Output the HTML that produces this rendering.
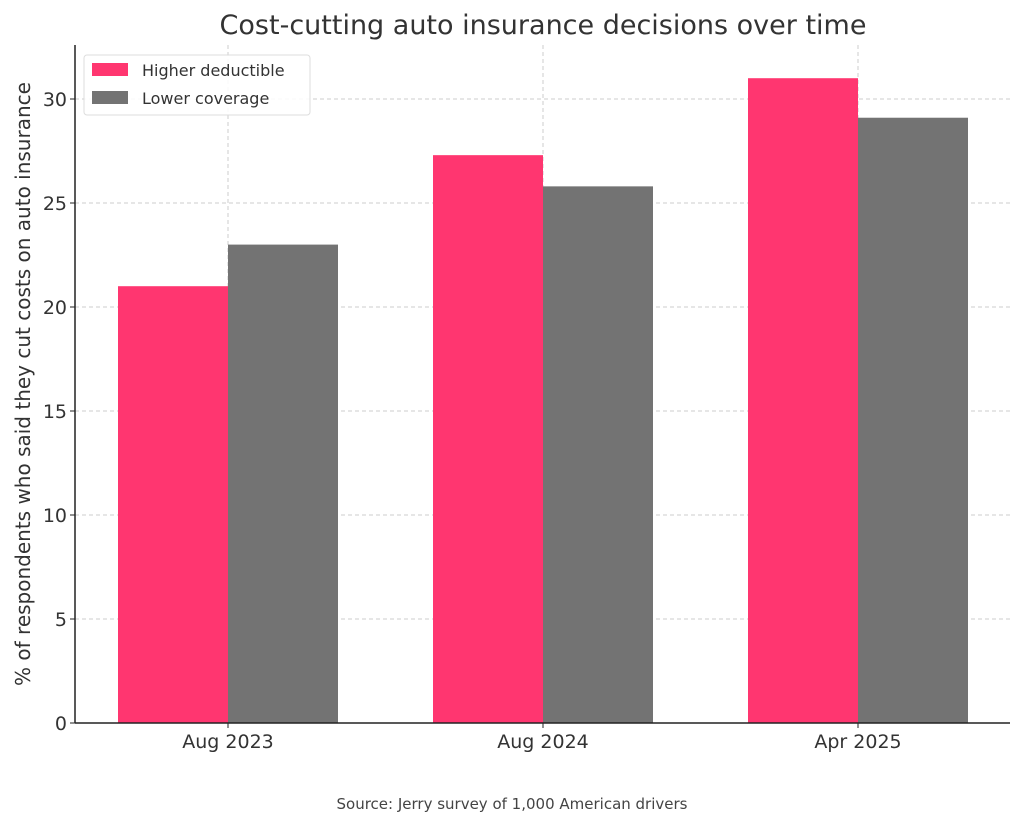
<!DOCTYPE html>
<html><head><meta charset="utf-8"><style>
body{margin:0;background:#fff;}
svg{display:block;font-family:"DejaVu Sans","Liberation Sans",sans-serif;}
</style></head><body>
<svg id="chart" width="1024" height="826" viewBox="0 0 1024 826">
<text x="543" y="34" text-anchor="middle" font-size="27" fill="#333">Cost-cutting auto insurance decisions over time</text>
<text transform="translate(30,384) rotate(-90)" text-anchor="middle" font-size="20" fill="#333">% of respondents who said they cut costs on auto insurance</text>
<text x="512" y="809" text-anchor="middle" font-size="15" fill="#444">Source: Jerry survey of 1,000 American drivers</text>
<g id="grid"></g><g id="bars"></g><g id="axes"></g>
<g>
<rect x="84" y="55" width="226" height="60" rx="3" fill="#fff" fill-opacity="0.85" stroke="#ddd"/>
<rect x="92" y="63" width="36" height="13" fill="#ff3670"/>
<text x="142" y="76" font-size="16" fill="#333">Higher deductible</text>
<rect x="92" y="91" width="36" height="13" fill="#737373"/>
<text x="142" y="104" font-size="16" fill="#333">Lower coverage</text>
</g>
</svg>
<script>
const categories=["Aug 2023","Aug 2024","Apr 2025"];
const higherDeductible=[21,27.3,31];
const lowerCoverage=[23,25.8,29.1];
const yTicks=[0,5,10,15,20,25,30];
const NS="http://www.w3.org/2000/svg";
const x0=75,x1=1010,yBase=723,pxPerUnit=20.8;
const groupStart=228,groupStep=315,barW=110;
const y=v=>yBase-v*pxPerUnit;
const xc=i=>groupStart+i*groupStep;
function mk(tag,attrs,parent){const e=document.createElementNS(NS,tag);for(const k in attrs)e.setAttribute(k,attrs[k]);parent.appendChild(e);return e;}
const grid=document.getElementById('grid'),bars=document.getElementById('bars'),axes=document.getElementById('axes');
yTicks.forEach(t=>{
 if(t>0){const l=mk('line',{x1:x0,x2:x1,y1:y(t),y2:y(t),stroke:'#ccc','stroke-dasharray':'4,3','stroke-width':1},grid);
 
 }
 const tk=mk('line',{x1:x0-5,x2:x0,y1:y(t),y2:y(t),stroke:'#222'},axes);
 
 
 const tx=mk('text',{x:x0-8,y:y(t)+7,'text-anchor':'end','font-size':19,fill:'#333'},axes);
 tx.textContent=t;
 
 
});
categories.forEach((c,i)=>{
 const gl=mk('line',{x1:xc(i),x2:xc(i),y1:45,y2:yBase,stroke:'#ccc','stroke-dasharray':'4,3'},grid);
 
 
 const b1=mk('rect',{x:xc(i)-barW,y:y(higherDeductible[i]),width:barW,height:higherDeductible[i]*pxPerUnit,fill:'#ff3670'},bars);
 
 
 const b2=mk('rect',{x:xc(i),y:y(lowerCoverage[i]),width:barW,height:lowerCoverage[i]*pxPerUnit,fill:'#737373'},bars);
 
 
 const tk=mk('line',{x1:xc(i),x2:xc(i),y1:yBase,y2:yBase+5,stroke:'#222'},axes);
 
 
 const tx=mk('text',{x:xc(i),y:yBase+25,'text-anchor':'middle','font-size':19,fill:'#333'},axes);
 tx.textContent=c;
 
 
});
const ly=mk('line',{x1:x0,x2:x0,y1:45,y2:yBase,stroke:'#222','stroke-width':1.5},axes);


const lx=mk('line',{x1:x0,x2:x1,y1:yBase,y2:yBase,stroke:'#222','stroke-width':1.5},axes);


</script>
</body></html>
